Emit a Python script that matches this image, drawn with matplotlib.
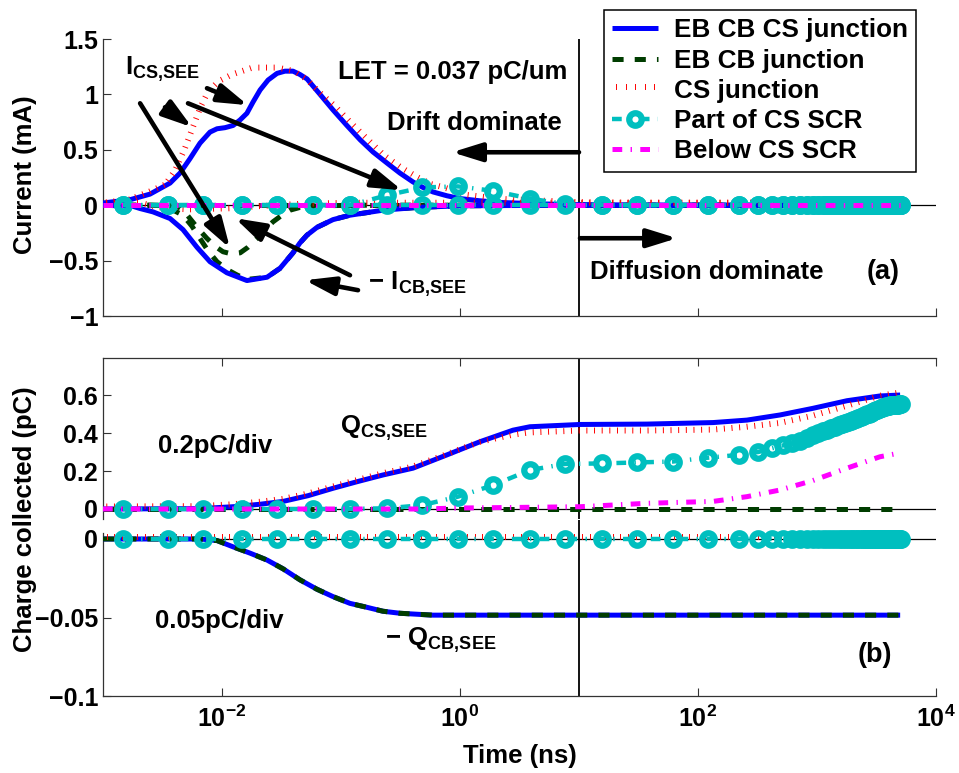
import matplotlib
matplotlib.use("Agg")
import matplotlib.pyplot as plt
import matplotlib.patheffects as pe
from matplotlib.ticker import FixedLocator, FixedFormatter, NullLocator

plt.rcParams.update({
    "font.family": "Liberation Sans",
    "font.weight": "bold",
    "axes.labelweight": "bold",
    "lines.scale_dashes": False,
    "mathtext.fontset": "custom",
    "mathtext.rm": "Liberation Sans:bold",
    "mathtext.it": "Liberation Sans:bold",
    "mathtext.bf": "Liberation Sans:bold",
    "mathtext.sf": "Liberation Sans:bold",
})

FS = 18.5
TICK_FS = 18

# ---------------- (a) transient currents, mA ----------------
# full structure (EB CB CS junction)
t_cs_full = [1e-3, 1.69e-3, 2.48e-3, 3.66e-3, 4.44e-3, 5.38e-3, 6.53e-3, 7.93e-3, 9.08e-3,
             1.06e-2, 1.24e-2, 1.42e-2, 1.62e-2, 1.82e-2, 2.09e-2, 2.44e-2, 2.90e-2, 3.38e-2,
             3.95e-2, 4.52e-2, 5.18e-2, 6.67e-2, 8.57e-2, 0.112, 0.145, 0.186, 0.244, 0.313,
             0.403, 0.489, 0.593, 0.778, 1.0, 1.47, 2.17, 4.70, 10, 32.6, 104, 5000]
i_cs_full = [0.02, 0.05, 0.10, 0.20, 0.29, 0.42, 0.56, 0.66, 0.69, 0.70, 0.72, 0.77, 0.83,
             0.93, 1.04, 1.13, 1.19, 1.21, 1.21, 1.18, 1.14, 1.00, 0.86, 0.72, 0.59, 0.48,
             0.38, 0.29, 0.21, 0.16, 0.12, 0.085, 0.06, 0.04, 0.025, 0.012, 0.005, 0, 0, 0]

t_cb_full = [1e-3, 1.79e-3, 2.05e-3, 2.63e-3, 3.66e-3, 4.70e-3, 6.17e-3, 7.93e-3, 1.10e-2,
             1.62e-2, 2.39e-2, 3.07e-2, 3.95e-2, 4.52e-2, 5.18e-2, 6.28e-2, 8.57e-2, 0.119,
             0.225, 0.435, 1.0, 10, 5000]
i_cb_full = [0.0, -0.01, -0.03, -0.06, -0.12, -0.22, -0.38, -0.51, -0.61, -0.68, -0.65, -0.57,
             -0.43, -0.34, -0.27, -0.20, -0.13, -0.09, -0.045, -0.02, -0.005, 0, 0]

# EB CB junction only
t_cb_ebcb = [1e-3, 2.48e-3, 4.19e-3, 4.70e-3, 5.38e-3, 6.28e-3, 7.48e-3, 8.73e-3, 1.02e-2,
             1.21e-2, 1.42e-2, 1.65e-2, 1.97e-2, 2.30e-2, 2.68e-2, 3.19e-2, 3.72e-2, 4.52e-2,
             6.67e-2, 0.145, 5000]
i_cb_ebcb = [0, 0, -0.01, -0.04, -0.12, -0.21, -0.30, -0.37, -0.42, -0.44, -0.43, -0.38,
             -0.30, -0.22, -0.15, -0.09, -0.045, -0.02, -0.005, 0, 0]

t_cb_ebcb2 = [1e-3, 3.01e-3, 3.66e-3, 4.70e-3, 5.60e-3, 6.53e-3, 7.62e-3, 9.08e-3, 1.10e-2,
              1.34e-2, 1.62e-2, 2.39e-2, 3.07e-2, 3.95e-2, 4.52e-2, 5.18e-2, 6.28e-2, 8.57e-2,
              0.119, 0.225, 0.435, 1.0, 10, 5000]
i_cb_ebcb2 = [0, 0, -0.03, -0.09, -0.19, -0.30, -0.41, -0.51, -0.58, -0.63, -0.67, -0.65,
              -0.57, -0.43, -0.34, -0.27, -0.20, -0.13, -0.09, -0.045, -0.02, -0.005, 0, 0]

# CS junction only
t_cs_cs = [1e-3, 1.69e-3, 2.48e-3, 3.45e-3, 4.19e-3, 5.08e-3, 6.17e-3, 6.92e-3, 7.93e-3,
           9.62e-3, 1.24e-2, 1.82e-2, 2.90e-2, 3.95e-2, 4.98e-2, 6.28e-2, 8.57e-2, 0.119,
           0.165, 0.225, 0.313, 0.435, 0.560, 0.720, 1.15, 2.17, 10, 32.6, 5000]
i_cs_cs = [0, 0.03, 0.10, 0.17, 0.30, 0.50, 0.74, 0.88, 1.01, 1.10, 1.16, 1.22, 1.22, 1.19,
           1.12, 1.01, 0.88, 0.72, 0.57, 0.43, 0.32, 0.23, 0.17, 0.14, 0.07, 0.035, 0.005, 0, 0]

t_neg_cs = [1e-3, 2.05e-3, 2.63e-3, 3.32e-3, 5.38e-3, 1.17e-2, 2.09e-2, 4.52e-2, 0.119, 5000]
i_neg_cs = [0, 0, -0.03, -0.05, -0.06, -0.05, -0.03, -0.01, 0, 0]

# part of CS SCR (sampled at the simulation output steps)
t_scr = [1.47e-3, 3.52e-3, 6.92e-3, 1.47e-2, 2.90e-2, 5.82e-2, 0.119, 0.244, 0.480, 0.962,
         1.89, 3.87, 7.62, 15.6, 30.7, 61.7,
         121, 221, 321, 421, 521, 621, 721, 821, 921, 1021, 1121, 1221, 1321, 1421, 1521,
         1621, 1721, 1821, 1921, 2021, 2121, 2221, 2321, 2421, 2521, 2621, 2721, 2821, 2921,
         3021, 3121, 3221, 3321, 3421, 3521, 3621, 3721, 3821, 3921, 4021, 4121, 4221, 4321,
         4421, 4521, 4621, 4721, 4821, 4921, 5021, 5121]
i_cs_scr = [0, 0, 0, 0, 0, 0, 0, 0.09, 0.16, 0.17, 0.13, 0.06, 0.01, 0, 0, 0] + [0.0] * 51
i_cb_scr = [0.0] * len(t_scr)

t_flat = [1e-3, 5000]
flat = [0, 0]

# ---------------- (b) collected charge, pC ----------------
t_q = [1e-3, 6.53e-3, 1.24e-2, 2.09e-2, 3.26e-2, 5.28e-2, 8.57e-2, 0.139, 0.225, 0.403,
       0.778, 1.47, 2.79, 3.87, 10.2, 37.2, 134, 258, 489, 925, 1786, 3381, 5000]
q_cs_full = [0, 0.002, 0.012, 0.025, 0.04, 0.07, 0.109, 0.145, 0.179, 0.215, 0.285, 0.354,
             0.415, 0.433, 0.445, 0.447, 0.455, 0.468, 0.495, 0.53, 0.57, 0.595, 0.60]
q_cs_cs = [0, 0.002, 0.012, 0.025, 0.04, 0.068, 0.105, 0.14, 0.175, 0.21, 0.275, 0.34,
           0.378, 0.39, 0.40, 0.40, 0.405, 0.42, 0.44, 0.478, 0.53, 0.583, 0.60]

q_cs_scr = [0, 0, 0, 0, 0, 0, 0, 0.004, 0.02, 0.065, 0.125, 0.205, 0.237, 0.24, 0.245, 0.25,
            0.27, 0.285, 0.30, 0.32, 0.335, 0.35, 0.36, 0.375, 0.39, 0.40, 0.41, 0.415, 0.425,
            0.43, 0.44, 0.445, 0.455, 0.46, 0.465, 0.47, 0.475, 0.48, 0.485, 0.49, 0.495, 0.50,
            0.50, 0.505, 0.51, 0.515, 0.52, 0.52, 0.525, 0.53, 0.53, 0.535, 0.535, 0.54, 0.54,
            0.54, 0.545, 0.545, 0.545, 0.55, 0.55, 0.55, 0.55, 0.55, 0.555, 0.555, 0.555]

t_q_below = [1e-3, 0.48, 0.944, 5.38, 10.2, 37.2, 134, 258, 489, 925, 1786, 3381, 5000]
q_cs_below = [0, 0, 0.005, 0.01, 0.012, 0.03, 0.04, 0.065, 0.10, 0.15, 0.215, 0.275, 0.295]

t_qcb = [1e-3, 6.53e-3, 9.08e-3, 1.24e-2, 1.72e-2, 2.39e-2, 3.26e-2, 4.52e-2, 6.28e-2,
         8.57e-2, 0.119, 0.165, 0.225, 0.313, 0.593, 1.47, 5000]
q_cb_full = [0, 0, -0.001, -0.005, -0.009, -0.0134, -0.019, -0.026, -0.032, -0.0367, -0.041,
             -0.0435, -0.046, -0.0473, -0.0485, -0.0485, -0.0485]

labels = ["EB CB CS junction", "EB CB junction", "CS junction", "Part of CS SCR",
          "Below CS SCR"]

# ---------------- line styles ----------------
BLUE = dict(color="#0000ff", lw=3.6, solid_capstyle="butt")
GREEN = dict(color="#003d00", lw=3.6, ls=(0, (8, 8)))
RED = dict(color="#ff0000", lw=0.7,
           path_effects=[pe.TickedStroke(spacing=5.5, angle=90, length=0.65)])
CYAN = dict(color="#00bfbf", lw=3.2, ls=(0, (7, 6, 1, 6)), marker="o", ms=9,
            mfc="none", mew=4.5)
MAGENTA = dict(color="#ff00ff", lw=3.6, ls=(0, (7, 6, 1, 6)))

XLIM = (1e-3, 1e4)
XTICKS = [1e-2, 1e0, 1e2, 1e4]
XTICKLABELS = [r"$10^{-2}$", r"$10^{0}$", r"$10^{2}$", r"$10^{4}$"]

fig = plt.figure(figsize=(9.59, 7.73), dpi=100)
L, W = 0.1074, 0.8686
ax1 = fig.add_axes([L, 0.5912, W, 0.3583])
ax2 = fig.add_axes([L, 0.3286, W, 0.2083])
ax3 = fig.add_axes([L, 0.0996, W, 0.2277])


def style_axes(ax):
    ax.set_xscale("log")
    ax.set_xlim(*XLIM)
    ax.xaxis.set_major_locator(FixedLocator(XTICKS))
    ax.xaxis.set_minor_locator(NullLocator())
    ax.xaxis.set_major_formatter(FixedFormatter(XTICKLABELS))
    ax.patch.set_visible(False)
    ax.tick_params(direction="in", length=6, width=0.8, colors="#333333",
                   labelcolor="black", labelsize=TICK_FS)
    ax.tick_params(axis="x", pad=7)
    for s in ax.spines.values():
        s.set_color("#333333")
        s.set_linewidth(0.9)
    ax.spines["right"].set_visible(False)


for ax in (ax1, ax2, ax3):
    style_axes(ax)

# ---- panel (a) ----
ax1.axhline(0, color="k", lw=0.9, zorder=1)
ax1.axvline(10, color="k", lw=1.3, zorder=1)
h_blue, = ax1.plot(t_cs_full, i_cs_full, zorder=4, **BLUE)
ax1.plot(t_cb_full, i_cb_full, zorder=4, **BLUE)
ax1.plot(t_flat, flat, zorder=3, **GREEN)
h_green, = ax1.plot(t_cb_ebcb, i_cb_ebcb, zorder=3, **GREEN)
ax1.plot(t_cb_ebcb2, i_cb_ebcb2, zorder=3, **GREEN)
h_red, = ax1.plot(t_cs_cs, i_cs_cs, zorder=5, **RED)
ax1.plot(t_neg_cs, i_neg_cs, zorder=5, **RED)
ax1.plot(t_scr, i_cb_scr, zorder=5, **CYAN)
h_cyan, = ax1.plot(t_scr, i_cs_scr, zorder=5, **CYAN)
h_mag, = ax1.plot(t_flat, flat, zorder=6, **MAGENTA)

ax1.set_ylim(-1, 1.5)
ax1.set_yticks([-1, -0.5, 0, 0.5, 1, 1.5])
ax1.set_yticklabels(["\u22121", "\u22120.5", "0", "0.5", "1", "1.5"])
ax1.spines["top"].set_visible(False)
ax1.tick_params(axis="x", labelbottom=False)

arrow = dict(arrowstyle="-|>,head_length=0.9,head_width=0.28", mutation_scale=20,
             lw=3.3, color="k", shrinkA=0, shrinkB=0)
arrows_a = [
    ((0.01652, 0.903), (0.00748, 1.056)),
    ((0.0056, 0.704), (0.00332, 0.884)),
    ((0.326, 0.135), (0.00518, 0.92)),
    ((0.01167, -0.388), (0.00205, 0.92)),
    ((0.01285, -0.117), (0.119, -0.632)),
    ((0.0498, -0.677), (0.139, -0.767)),
    ((0.857, 0.478), (10, 0.478)),
    ((66.7, -0.298), (10.2, -0.298)),
]
for head, tail in arrows_a:
    ax1.annotate("", xy=head, xytext=tail, arrowprops=arrow, zorder=7)

ax1.text(0.0944, 1.137, "LET = 0.037 pC/um", fontsize=FS, va="baseline")
ax1.text(0.244, 0.677, "Drift dominate", fontsize=FS, va="baseline")
ax1.text(12.4, -0.668, "Diffusion dominate", fontsize=FS, va="baseline")
ax1.text(2630, -0.668, "(a)", fontsize=FS + 1, va="baseline")
ax1.text(1.53e-3, 1.173, r"$\mathrm{I}_{\mathrm{CS{,}SEE}}$", fontsize=FS, va="baseline")
ax1.text(0.169, -0.767, r"$-\ \mathrm{I}_{\mathrm{CB{,}SEE}}$", fontsize=FS, va="baseline")

leg = ax1.legend([h_blue, h_green, h_red, h_cyan, h_mag], labels,
                 loc="upper left", bbox_to_anchor=(0.6298, 0.987),
                 bbox_transform=fig.transFigure, borderaxespad=0, fontsize=FS + 0.3,
                 handlelength=1.75, handletextpad=0.6, labelspacing=0.24,
                 borderpad=0.32, fancybox=False, framealpha=1, numpoints=1)
leg.get_frame().set_edgecolor("black")
leg.get_frame().set_linewidth(1.1)
leg.set_zorder(10)

# ---- panel (b), upper part: CS charge ----
ax2.axhline(0, color="k", lw=0.9, zorder=1)
ax2.axvline(10, color="k", lw=1.3, zorder=1)
ax2.plot(t_q, q_cs_full, zorder=3, **BLUE)
ax2.plot(t_flat, flat, zorder=3, **GREEN)
ax2.plot(t_q, q_cs_cs, zorder=4, **RED)
ax2.plot(t_scr, q_cs_scr, zorder=5, **CYAN)
ax2.plot(t_q_below, q_cs_below, zorder=6, **MAGENTA)
ax2.set_ylim(-0.0526, 0.795)
ax2.set_yticks([0, 0.2, 0.4, 0.6])
ax2.set_yticklabels(["0", "0.2", "0.4", "0.6"])
ax2.spines["bottom"].set_visible(False)
ax2.tick_params(axis="x", top=True, bottom=False, labelbottom=False, labeltop=False)
ax2.text(2.90e-3, 0.295, "0.2pC/div", fontsize=FS, va="baseline")
ax2.text(0.098, 0.395, r"$\mathrm{Q}_{\mathrm{CS{,}SEE}}$", fontsize=FS, va="baseline")

# ---- panel (b), lower part: CB charge ----
ax3.axhline(0, color="k", lw=0.9, zorder=1)
ax3.axvline(10, color="k", lw=1.3, zorder=1)
ax3.plot(t_qcb, q_cb_full, zorder=3, **BLUE)
ax3.plot(t_qcb, q_cb_full, zorder=4, **GREEN)
ax3.plot(t_flat, flat, zorder=4, **RED)
ax3.plot(t_scr, i_cb_scr, zorder=5, **CYAN)
ax3.set_ylim(-0.1, 0.0121)
ax3.set_yticks([-0.1, -0.05, 0])
ax3.set_yticklabels(["\u22120.1", "\u22120.05", "0"])
ax3.spines["top"].set_visible(False)
ax3.spines["left"].set_bounds(-0.1, 0.0038)
ax3.text(2.74e-3, -0.0567, "0.05pC/div", fontsize=FS, va="baseline")
ax3.text(0.234, -0.0682, r"$-\ \mathrm{Q}_{\mathrm{CB{,}SEE}}$", fontsize=FS, va="baseline")
ax3.text(2213, -0.0783, "(b)", fontsize=FS + 1, va="baseline")

fig.text(25 / 959, 1 - 175 / 773, "Current (mA)", rotation=90, fontsize=FS,
         ha="center", va="center")
fig.text(25 / 959, 1 - 519 / 773, "Charge collected (pC)", rotation=90, fontsize=FS,
         ha="center", va="center")
fig.text(520 / 959, 1 - 756 / 773, "Time (ns)", fontsize=FS, ha="center", va="center")

fig.savefig("out.png", dpi=100)
